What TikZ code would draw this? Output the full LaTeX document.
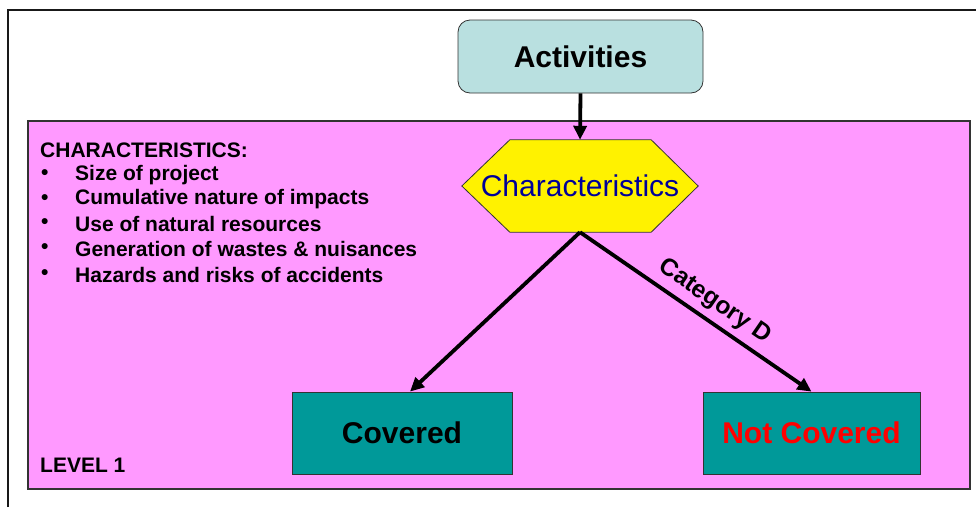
\documentclass[tikz,border=0pt]{standalone}
\usepackage{fontspec}
\setmainfont{Liberation Sans}
\usetikzlibrary{arrows.meta}
\definecolor{pinkbg}{HTML}{FF99FF}
\definecolor{tealbox}{HTML}{009999}
\definecolor{actfill}{HTML}{B9E0E0}
\definecolor{hexblue}{HTML}{000099}
\tikzset{
  flowarrow/.style={line width=3.8pt, -{Triangle[length=14pt,width=13pt]}},
  outcome/.style={draw=black!80, line width=0.8pt, fill=tealbox, minimum width=220pt,
    minimum height=82pt, inner sep=0pt, font=\fontsize{30}{34}\selectfont\bfseries},
  listtext/.style={anchor=west, inner sep=0pt, font=\fontsize{21}{24}\selectfont\bfseries}
}
\begin{document}
\begin{tikzpicture}[x=1pt, y=-1pt]
\useasboundingbox (0,0) rectangle (976,507);
\fill[white] (0,0) rectangle (976,507);
% slide frame, open to the right and at the bottom
\draw[line width=2pt, black!90] (8,507) -- (8,10) -- (976,10);
% level 1 panel
\draw[fill=pinkbg, draw=black!80, line width=1.2pt] (28,121) rectangle (970,489);
% activities box
\node (act) [draw=black!80, line width=0.8pt, fill=actfill, rounded corners=12pt,
  minimum width=245pt, minimum height=73pt, inner sep=0pt,
  font=\fontsize{30}{34}\selectfont\bfseries] at (580.5,56.5) {Activities};
% characteristics hexagon
\node (hex) [minimum width=236pt, minimum height=92pt, inner sep=0pt] at (580,186) {};
\draw[fill=yellow, draw=black!80, line width=0.8pt]
  (hex.west) -- ([xshift=48pt]hex.north west) -- ([xshift=-47pt]hex.north east)
  -- (hex.east) -- ([xshift=-47pt]hex.south east) -- ([xshift=48pt]hex.south west) -- cycle;
\node (hextext) [text=hexblue, font=\fontsize{30}{34}\selectfont, inner sep=0pt] at (hex.center) {Characteristics};
% outcomes
\node (cov) [outcome] at (402,433) {Covered};
\node (nc) [outcome, text=red, minimum width=217pt] at (811.5,433) {Not Covered};
% connectors
\draw[flowarrow] (act.south) -- (hex.north);
\draw[flowarrow] (hex.south) -- ([xshift=8pt]cov.north);
\draw[flowarrow] (hex.south) -- node[sloped, above=6pt, pos=0.535, inner sep=0pt,
  font=\fontsize{24.5}{28}\selectfont\bfseries] (catd) {Category D} (nc.north);
% characteristics list
\node (hdr) [listtext] at (40,150) {CHARACTERISTICS:};
\foreach \y/\t [count=\i] in {175/Size of project, 199.5/Cumulative nature of impacts,
    224/Use of natural resources, 249/Generation of wastes \& nuisances,
    275/Hazards and risks of accidents} {
  \node (b\i) [listtext] at (41,\y) {\textbullet};
  \node (l\i) [listtext] at (75,\y) {\t};
}
\node (lvl) [listtext] at (40,465) {LEVEL 1};
\end{tikzpicture}
\end{document}
